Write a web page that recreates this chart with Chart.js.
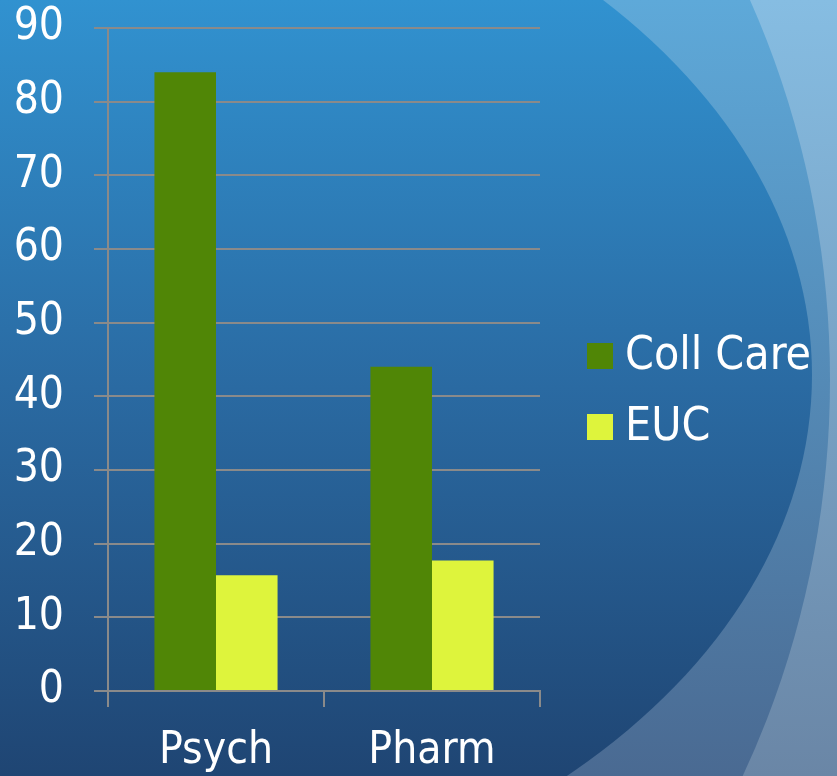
<!DOCTYPE html>
<html>
<head>
<meta charset="utf-8">
<script src="https://cdn.jsdelivr.net/npm/chart.js@4"></script>
<style>
  html, body { margin: 0; padding: 0; background: #2a6ca8; overflow: hidden; }
  canvas { display: block; }
</style>
</head>
<body>
<canvas id="chart" width="837" height="776"></canvas>
<script>
// Chart data
const categories = ["Psych", "Pharm"];
const collCare = [84, 44];
const euc = [15.7, 17.7];
const yTicks = [0, 10, 20, 30, 40, 50, 60, 70, 80, 90];

const FONT = "'DejaVu Sans Condensed', 'DejaVu Sans', sans-serif";
const GRID = "#8a8a8a";

// Slide-like background: blue gradient with lighter swooshes on the right
const backgroundPlugin = {
    id: "slideBackground",
    beforeDraw(chart) {
        const { ctx, width, height } = chart;
        ctx.save();

        // lightest outer layer
        let g = ctx.createLinearGradient(0, 0, 0, height);
        g.addColorStop(0, "#86bde2");
        g.addColorStop(1, "#6a86a6");
        ctx.fillStyle = g;
        ctx.fillRect(0, 0, width, height);

        // middle band
        g = ctx.createLinearGradient(0, 0, 0, height);
        g.addColorStop(0, "#5ea9d9");
        g.addColorStop(1, "#4a6a92");
        ctx.fillStyle = g;
        ctx.beginPath();
        ctx.ellipse(0, 380, 830, 887, 0, 0, Math.PI * 2);
        ctx.fill();

        // dark main area
        g = ctx.createLinearGradient(0, 0, 0, height);
        g.addColorStop(0, "#3192d0");
        g.addColorStop(0.5, "#2a6aa2");
        g.addColorStop(1, "#1f4573");
        ctx.fillStyle = g;
        ctx.beginPath();
        ctx.ellipse(0, 375, 812, 560, 0, 0, Math.PI * 2);
        ctx.fill();

        ctx.restore();
    },
};

// Legend drawn to the right of the plot
const sideLegend = {
    id: "sideLegend",
    afterDraw(chart) {
        const { ctx } = chart;
        ctx.save();
        ctx.font = "46px " + FONT;
        ctx.textBaseline = "middle";
        chart.data.datasets.forEach((ds, i) => {
            const y = 356 + i * 71;
            ctx.fillStyle = ds.backgroundColor;
            ctx.fillRect(587, y - 13, 26, 26);
            ctx.fillStyle = "#ffffff";
            ctx.fillText(ds.label, 625, y + 1);
        });
        ctx.restore();
    },
};

const ctx = document.getElementById("chart").getContext("2d");
const chart = new Chart(ctx, {
    type: "bar",
    data: {
        labels: categories,
        datasets: [
            {
                label: "Coll Care",
                data: collCare,
                backgroundColor: "#508606",
            },
            {
                label: "EUC",
                data: euc,
                backgroundColor: "#def43c",
            },
        ],
    },
    options: {
        responsive: false,
        animation: false,
        categoryPercentage: 0.57,
        barPercentage: 1.0,
        layout: {
            padding: { left: 0, right: 297, top: 28, bottom: 0 },
        },
        plugins: {
            legend: { display: false },
            tooltip: { enabled: false },
        },
        scales: {
            x: {
                afterFit(scale) {
                    scale.height = 85;
                },
                grid: {
                    drawOnChartArea: false,
                    drawTicks: true,
                    tickLength: 16,
                    color: GRID,
                    lineWidth: 2,
                },
                border: { color: GRID, width: 2 },
                ticks: {
                    color: "#ffffff",
                    padding: 18,
                    font: { family: FONT, size: 44 },
                },
            },
            y: {
                min: 0,
                max: 90,
                afterBuildTicks(scale) {
                    scale.ticks = yTicks.map((v) => ({ value: v }));
                },
                afterFit(scale) {
                    scale.width = 108;
                    scale.paddingTop = 0;
                    scale.paddingBottom = 0;
                },
                grid: {
                    color: GRID,
                    lineWidth: 2,
                    tickLength: 14,
                },
                border: { color: GRID, width: 2 },
                ticks: {
                    color: "#ffffff",
                    padding: 30,
                    font: { family: FONT, size: 44 },
                },
            },
        },
    },
    plugins: [backgroundPlugin, sideLegend],
});
</script>
</body>
</html>
